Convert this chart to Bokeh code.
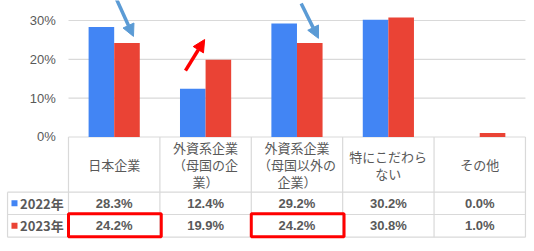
from bokeh.plotting import figure
from bokeh.models import Range1d, Arrow, NormalHead
from bokeh.core.properties import value
from bokeh.embed import file_html
from bokeh.resources import INLINE

# ---- data ----
categories = ["日本企業", "外資系企業\n（母国の企\n業）", "外資系企業\n（母国以外の\n企業）", "特にこだわら\nない", "その他"]
years = ["2022年", "2023年"]
values_2022 = [28.3, 12.4, 29.2, 30.2, 0.0]
values_2023 = [24.2, 19.9, 24.2, 30.8, 1.0]
y_ticks = [0, 10, 20, 30]
y_tick_labels = ["0%", "10%", "20%", "30%"]
highlight_2023 = [0, 2]

# ---- styling ----
BLUE = "#4285F4"
RED = "#EA4335"
GRID = "#d9d9d9"
TXT = "#595959"
JP = "Noto Sans CJK JP"
LAT = "Liberation Sans"

n = len(categories)
xs = list(range(n))

p = figure(width=534, height=251, x_range=Range1d(-1.244, 4.599), y_range=Range1d(-29.49, 35.15),
           output_backend="svg", toolbar_location=None, min_border=0,
           x_axis_location=None, y_axis_location=None, outline_line_color=None)
p.grid.visible = False
p.background_fill_color = "white"

# table geometry (in data units)
left_col = -1.167
hdr_bot = -14.22
row1_bot = -19.96
row2_bot = -25.8
line_h = 4.38

# gridlines
p.segment(x0=-0.5, x1=n - 0.5, y0=y_ticks, y1=y_ticks, line_color=GRID, line_width=1.2)
# y labels
p.text(x=[-0.64] * len(y_ticks), y=y_ticks, text=y_tick_labels, text_align="right", text_baseline="middle",
       text_font=value(LAT), text_font_size="13px", text_color=TXT)

# bars
w = 0.28
p.vbar(x=[x - w / 2 for x in xs], top=values_2022, width=w, fill_color=BLUE, line_color=None)
p.vbar(x=[x + w / 2 for x in xs], top=values_2023, width=w, fill_color=RED, line_color=None)

# table lines
p.segment(x0=[left_col] * 3, x1=[n - 0.5] * 3, y0=[hdr_bot, row1_bot, row2_bot], y1=[hdr_bot, row1_bot, row2_bot],
          line_color=GRID, line_width=1.2)
p.segment(x0=[i - 0.5 for i in range(n + 1)], x1=[i - 0.5 for i in range(n + 1)],
          y0=[0] * (n + 1), y1=[row2_bot] * (n + 1), line_color=GRID, line_width=1.2)
p.segment(x0=[left_col], x1=[left_col], y0=[hdr_bot], y1=[row2_bot], line_color=GRID, line_width=1.2)

# header text (one glyph per line, block centred in header row)
hx, hy, ht = [], [], []
for i, cat in enumerate(categories):
    lines = cat.split("\n")
    k = len(lines)
    for j, ln in enumerate(lines):
        hx.append(i)
        hy.append(hdr_bot / 2 + (k - 1) / 2 * line_h - j * line_h)
        ht.append(ln)
p.text(x=hx, y=hy, text=ht, text_align="center", text_baseline="middle",
       text_font=value(JP), text_font_size="13px", text_color=TXT)

# values
r1 = (hdr_bot + row1_bot) / 2
r2 = (row1_bot + row2_bot) / 2
p.text(x=xs, y=[r1] * n, text=[f"{v:.1f}%" for v in values_2022], text_align="center", text_baseline="middle",
       text_font=value(LAT), text_font_size="13px", text_font_style="bold", text_color=TXT)
p.text(x=xs, y=[r2] * n, text=[f"{v:.1f}%" for v in values_2023], text_align="center", text_baseline="middle",
       text_font=value(LAT), text_font_size="13px", text_font_style="bold", text_color=TXT)

# legend column
p.scatter(x=[-1.091, -1.091], y=[r1, r2], marker="square", size=6, fill_color=[BLUE, RED], line_color=None)
p.text(x=[-1.03, -1.03], y=[r1, r2], text=years, text_align="left", text_baseline="middle",
       text_font=value(JP), text_font_size="13px", text_font_style="bold", text_color=TXT)

# highlight boxes
p.quad(left=[i - 0.5 for i in highlight_2023], right=[i + 0.515 for i in highlight_2023],
       top=[row1_bot + 0.2] * len(highlight_2023), bottom=[row2_bot + 0.1] * len(highlight_2023),
       fill_color=None, line_color="#FF0000", line_width=3)

# arrows
ab = "#5B9BD5"
p.add_layout(Arrow(end=NormalHead(size=12, fill_color=ab, line_color=ab), x_start=0.025, y_start=35.5,
                   x_end=0.211, y_end=25.9, line_color=ab, line_width=3.5))
p.add_layout(Arrow(end=NormalHead(size=12, fill_color=ab, line_color=ab), x_start=2.046, y_start=34.4,
                   x_end=2.235, y_end=25.4, line_color=ab, line_width=3.5))
p.add_layout(Arrow(end=NormalHead(size=12, fill_color="#FF0000", line_color="#FF0000"), x_start=0.780, y_start=17.1,
                   x_end=0.990, y_end=25.1, line_color="#FF0000", line_width=3.5))

open("out.html", "w").write(file_html(p, INLINE))
